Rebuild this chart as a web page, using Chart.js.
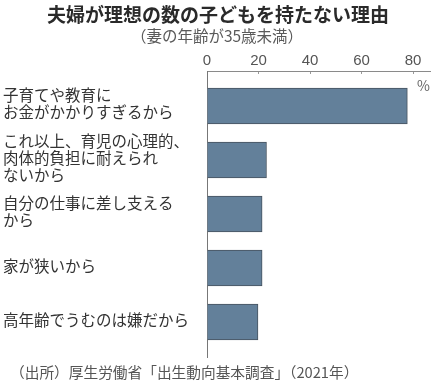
<!DOCTYPE html>
<html><head><meta charset="utf-8">
<script src="https://cdn.jsdelivr.net/npm/chart.js@4/dist/chart.umd.min.js"></script>
<style>
html,body{margin:0;padding:0;background:#fff;width:436px;height:383px;overflow:hidden}
#wrap{position:relative;width:436px;height:383px}
canvas{position:absolute;left:0;top:0}
.t{position:absolute;white-space:nowrap;font-family:"Noto Sans CJK JP","Noto Sans",sans-serif;}
</style></head><body>
<div id="wrap">
<canvas id="c" width="436" height="383"></canvas>
<div class="t" style="left:0;width:436px;text-align:center;top:2px;font-size:19px;font-weight:bold;color:#2a2a2a;line-height:24px">夫婦が理想の数の子どもを持たない理由</div>
<div class="t" style="left:0;width:434px;text-align:center;top:25px;font-size:15.5px;color:#5a5a5a;line-height:20px">（妻の年齢が35歳未満）</div>
<div class="t" style="left:417px;top:76px;font-size:14px;color:#666;line-height:18px">%</div>
<div class="t" style="left:10px;top:362px;font-size:14.7px;color:#555;line-height:19px">（出所）厚生労働省「出生動向基本調査」（2021年）</div>
</div>
<script>
const categories = [
  ["子育てや教育に", "お金がかかりすぎるから"],
  ["これ以上、育児の心理的、", "肉体的負担に耐えられ", "ないから"],
  ["自分の仕事に差し支える", "から"],
  ["家が狭いから"],
  ["高年齢でうむのは嫌だから"]
];
const values = [77.8, 23.1, 21.4, 21.4, 19.8];
const xTicks = [0, 20, 40, 60, 80];

const ctx = document.getElementById('c').getContext('2d');
new Chart(ctx, {
  type: 'bar',
  data: {
    datasets: [{
      data: values.map((v, i) => ({x: v, y: i})),
      backgroundColor: '#63809a',
      borderColor: '#46525e',
      borderWidth: 1,
      barThickness: 36
    }]
  },
  options: {
    indexAxis: 'y',
    responsive: false,
    animation: false,
    layout: {padding: {left: 3, top: 48, right: 6, bottom: 26}},
    plugins: {legend: {display: false}, tooltip: {enabled: false}, title: {display: false}},
    scales: {
      x: {
        type: 'linear',
        position: 'top',
        min: 0,
        max: 86.6,
        afterBuildTicks: s => { s.ticks = xTicks.map(v => ({value: v})); },
        afterFit: s => { s.height = 23; },
        grid: {drawOnChartArea: false, drawTicks: true, tickLength: -3, color: '#999'},
        border: {display: true, color: '#8a8a8a', width: 1},
        ticks: {font: {family: 'Liberation Sans', size: 15}, color: '#555', padding: 4, maxRotation: 0}
      },
      y: {
        type: 'linear',
        reverse: true,
        offset: false,
        min: -0.648,
        max: 4.648,
        afterBuildTicks: s => { s.ticks = categories.map((c, i) => ({value: i})); },
        afterFit: s => { s.width = 204; },
        grid: {display: false},
        border: {display: true, color: '#777', width: 1},
        ticks: {
          autoSkip: false,
          crossAlign: 'far',
          labelOffset: -2,
          callback: v => categories[v],
          font: {family: 'Noto Sans CJK JP', size: 15.5, lineHeight: 1.1},
          color: '#333'
        }
      }
    }
  }
});
</script>
</body></html>
